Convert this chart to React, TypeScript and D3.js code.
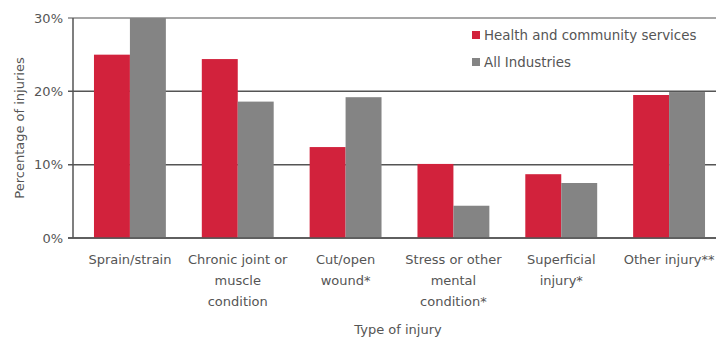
import React from "react";
import * as d3 from "d3";

const categories: string[][] = [
  ["Sprain/strain"],
  ["Chronic joint or", "muscle", "condition"],
  ["Cut/open", "wound*"],
  ["Stress or other", "mental", "condition*"],
  ["Superficial", "injury*"],
  ["Other injury**"],
];
const healthValues = [25.0, 24.4, 12.4, 10.1, 8.7, 19.5];
const allValues = [30.0, 18.6, 19.2, 4.4, 7.5, 19.9];
const seriesNames = ["Health and community services", "All Industries"];
const seriesColors = ["#d2223c", "#848484"];
const yTicks = [0, 10, 20, 30];

const W = 718;
const H = 340;
const FONT = "DejaVu Sans, sans-serif";

export default function App() {
  const x = d3
    .scaleBand<number>()
    .domain(categories.map((_, i) => i))
    .range([76, 723])
    .paddingInner(1 / 3)
    .paddingOuter(1 / 6);
  const sub = d3.scaleBand<number>().domain([0, 1]).range([0, x.bandwidth()]);
  const y = d3.scaleLinear().domain([0, 30]).range([238, 18]);
  const series = [healthValues, allValues];
  const axisX = 73;

  return (
    <svg
      width={W}
      height={H}
      style={{ position: "absolute", left: 0, top: 0, background: "#fff" }}
      fontFamily={FONT}
    >
      <rect width={W} height={H} fill="#fff" />
      {yTicks.map((t) => (
        <g key={t}>
          <line
            x1={axisX - 5}
            x2={716}
            y1={y(t)}
            y2={y(t)}
            stroke={t === 30 ? "#8a8a8a" : "#555"}
            strokeWidth={1.5}
          />
          <text
            x={63}
            y={y(t)}
            dy="0.35em"
            textAnchor="end"
            fontSize={13}
            fill="#555"
          >
            {`${t}%`}
          </text>
        </g>
      ))}
      {series.map((vals, s) =>
        vals.map((v, i) => (
          <rect
            key={`${s}-${i}`}
            x={(x(i) as number) + (sub(s) as number)}
            y={y(v)}
            width={sub.bandwidth()}
            height={y(0) - y(v)}
            fill={seriesColors[s]}
          />
        ))
      )}
      <line x1={axisX - 5} x2={716} y1={y(0)} y2={y(0)} stroke="#555" strokeWidth={1.5} />
      <line x1={axisX} x2={axisX} y1={y(30)} y2={y(0)} stroke="#555" strokeWidth={1.5} />
      <text
        transform={`translate(19,${(y(0) + y(30)) / 2}) rotate(-90)`}
        textAnchor="middle"
        dy="0.35em"
        fontSize={13}
        fill="#555"
      >
        Percentage of injuries
      </text>
      {categories.map((lines, i) => (
        <text
          key={i}
          x={(x(i) as number) + x.bandwidth() / 2}
          y={264}
          textAnchor="middle"
          fontSize={13}
          fill="#555"
        >
          {lines.map((l, j) => (
            <tspan key={j} x={(x(i) as number) + x.bandwidth() / 2} dy={j === 0 ? 0 : 21}>
              {l}
            </tspan>
          ))}
        </text>
      ))}
      <text x={398} y={334} textAnchor="middle" fontSize={13} fill="#555">
        Type of injury
      </text>
      {seriesNames.map((n, s) => (
        <g key={n} transform={`translate(472,${35 + s * 27})`}>
          <rect x={0} y={-4} width={8} height={8} fill={seriesColors[s]} />
          <text x={12} y={0} dy="0.35em" fontSize={13.4} fill="#555">
            {n}
          </text>
        </g>
      ))}
    </svg>
  );
}
